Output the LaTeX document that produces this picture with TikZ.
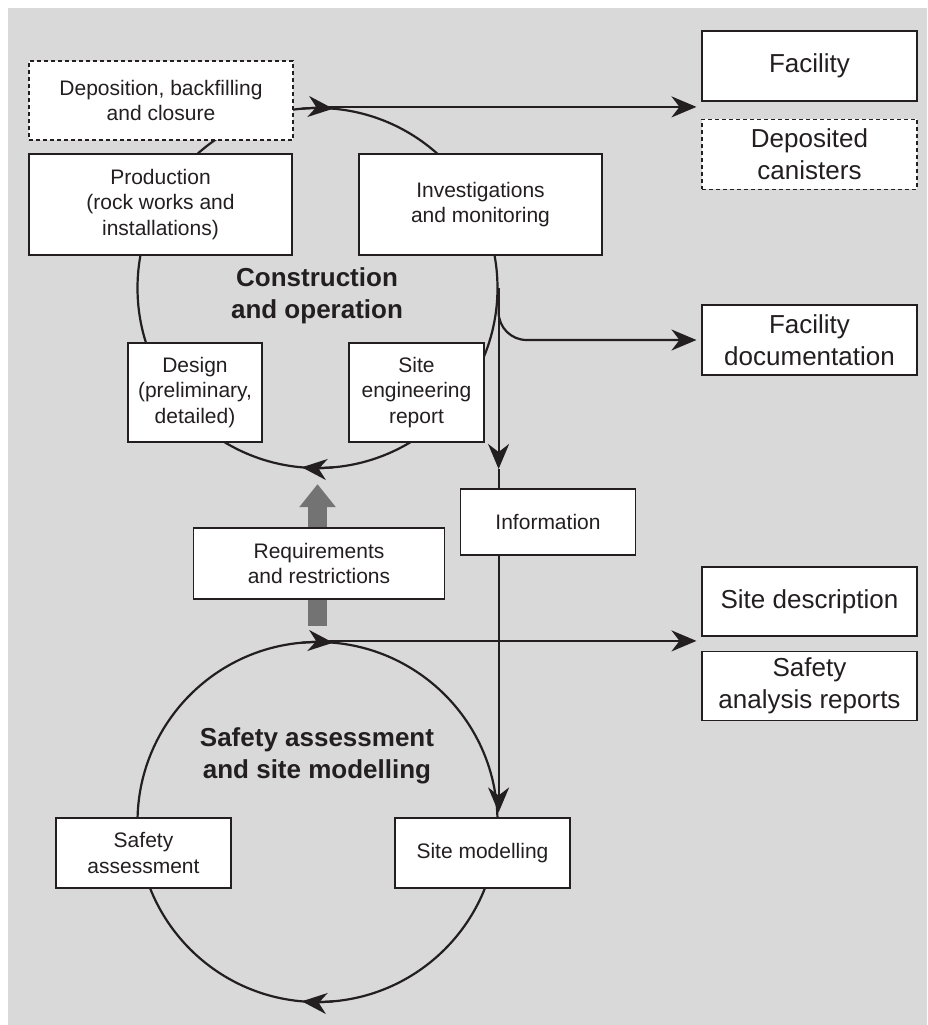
\documentclass[tikz,border=0pt]{standalone}
\usepackage{fontspec}
\setmainfont{Liberation Sans}
\usetikzlibrary{positioning,arrows.meta}
\definecolor{bggrey}{HTML}{D9D9D9}
\definecolor{ink}{HTML}{231F20}
\definecolor{shaftgrey}{HTML}{737373}
\begin{document}
\begin{tikzpicture}[
        x=1pt, y=1pt,
        % box styles
        task/.style={rectangle, draw=ink, fill=white, line width=1.1pt, text=ink, align=center, inner sep=2pt, font=\fontsize{21}{25.5}\selectfont},
        output/.style={task, minimum width=215pt, minimum height=70pt, font=\fontsize{26}{32}\selectfont},
        planned/.style={dash pattern=on 4pt off 3pt},
        loopring/.style={circle, draw=ink, line width=2.2pt, minimum size=360pt, inner sep=0pt},
        heading/.style={text=ink, align=center, font=\bfseries\fontsize{26}{32}\selectfont},
        % line styles
        flow/.style={draw=ink, line width=2.2pt, -{Stealth[length=25pt, width=21pt, inset=8pt]}},
        plain/.style={draw=ink, line width=2.2pt},
        bigarrow/.style={draw=shaftgrey, line width=19pt, -{Triangle[length=23pt, width=35pt]}}
    ]
    \useasboundingbox (0,0) rectangle (928,-1025);
    \fill[bggrey] (8,-8) rectangle (927,-1025);

    % the two loops (behind the boxes)
    \node (loopA) [loopring] at (317.5,-288) {};
    \node (loopB) [loopring] at (317.5,-822) {};
    \draw[flow] ([shift={(95:180)}]loopA.center) arc[start angle=95, end angle=85, radius=180];
    \draw[flow] ([shift={(275:180)}]loopA.center) arc[start angle=275, end angle=265, radius=180];
    \draw[flow] ([shift={(95:180)}]loopB.center) arc[start angle=95, end angle=85, radius=180];
    \draw[flow] ([shift={(275:180)}]loopB.center) arc[start angle=275, end angle=265, radius=180];
    \draw[bigarrow, shorten <=15pt, shorten >=15pt] (loopB.north) -- (loopA.south);

    \node (titleA) [heading] at (317,-296) {Construction\\and operation};
    \node (titleB) [heading] at (317,-756) {Safety assessment\\and site modelling};

    % boxes on the upper loop
    \node (depo) [task, planned, minimum width=264pt, minimum height=79pt] at (161,-100.5) {Deposition, backfilling\\and closure};
    \node (prod) [task, minimum width=263pt, minimum height=101pt] at (160.5,-204.5) {Production\\(rock works and\\installations)};
    \node (invest) [task, minimum width=243pt, minimum height=101pt] at (480.5,-204.5) {Investigations\\and monitoring};
    \node (design) [task, minimum width=134pt, minimum height=99pt] at (195,-392.5) {Design\\(preliminary,\\detailed)};
    \node (siteeng) [task, minimum width=135pt, minimum height=99pt] at (416.5,-392.5) {Site\\engineering\\report};

    % middle boxes
    \node (info) [task, minimum width=175pt, minimum height=66pt] at (548,-522) {Information};
    \node (req) [task, minimum width=251pt, minimum height=71pt] at (319,-563.5) {Requirements\\and restrictions};

    % boxes on the lower loop
    \node (safass) [task, minimum width=175pt, minimum height=70pt] at (143.5,-853) {Safety\\assessment};
    \node (sitemod) [task, minimum width=175pt, minimum height=70pt] at (482.5,-853) {Site modelling};

    % results on the right
    \node (facility) [output] at (809.5,-66) {Facility};
    \node (canisters) [output, planned, below=17pt of facility] {Deposited\\canisters};
    \node (facdoc) [output] at (809.5,-340) {Facility\\documentation};
    \node (sitedesc) [output, minimum height=69pt] at (809.5,-601.5) {Site description};
    \node (safrep) [output, minimum height=69pt, below=14pt of sitedesc] {Safety\\analysis reports};

    % connectors
    \draw[flow, shorten >=5pt] (loopA.north) -- (loopA.north -| facility.west);
    \draw[flow, rounded corners=28pt, shorten >=5pt] (loopA.east) |- (facdoc.west);
    \coordinate (infotip) at ([yshift=-181pt]loopA.east);
    \draw[flow] (loopA.east) -- (infotip);
    \draw[plain] (infotip) -- (infotip |- info.north);
    \draw[flow, shorten >=5pt] (info.south -| loopA.east) -- (sitemod.north -| loopA.east);
    \draw[flow, shorten >=5pt] (loopB.north) -- (loopB.north -| sitedesc.west);

\end{tikzpicture}
\end{document}
